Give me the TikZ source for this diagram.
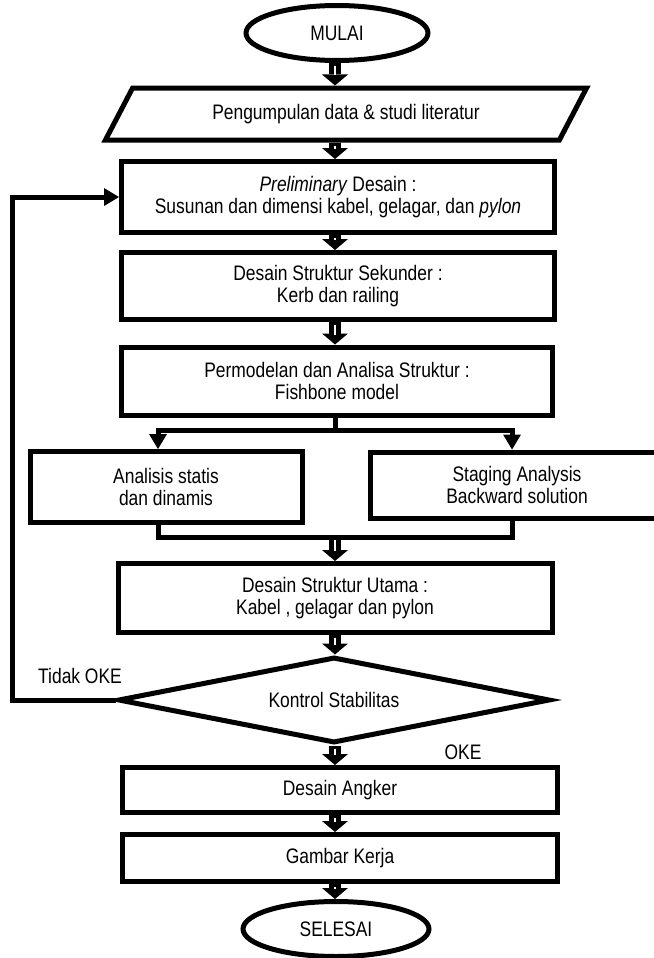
\documentclass[tikz,border=0pt]{standalone}
\usepackage{fontspec}
\setmainfont{Liberation Sans}[FakeStretch=0.83]
\usetikzlibrary{positioning,arrows.meta,calc,shapes.geometric}

\begin{document}
\begin{tikzpicture}[x=1pt, y=-1pt,
	font=\fontsize{21}{22}\selectfont,
	box/.style={draw, line width=5pt, rectangle, inner sep=0pt, align=center},
	term/.style={draw, line width=5pt, ellipse, inner sep=0pt,
		minimum width=182pt, minimum height=55pt},
	flow/.style={line width=12pt, -{Triangle[length=11pt,width=26pt,line width=0pt]}},
	flowgap/.style={white, line width=2.5pt, shorten >=10pt, shorten <=3pt},
	wire/.style={line width=5pt},
	arr/.style={line width=5pt, -{Triangle[length=15pt,width=18pt,line width=0pt]}}]

	\useasboundingbox (0,0) rectangle (653,958);

	\node[term] (mulai) at (337,33) {MULAI};
	\node[draw, line width=5pt, trapezium, trapezium left angle=49,
		  trapezium right angle=131, trapezium stretches=true,
		  minimum width=482pt, minimum height=52pt, inner sep=0pt]
		  (data) at (346,114) {Pengumpulan data \& studi literatur};
	\node[box, minimum width=433pt, minimum height=71pt]
		  (prelim) at (338,197) {\textit{Preliminary} Desain :\\
		  Susunan dan dimensi kabel, gelagar, dan \textit{pylon}};
	\node[box, minimum width=433pt, minimum height=67pt]
		  (sekunder) at (338,286) {Desain Struktur Sekunder :\\ Kerb dan railing};
	\node[box, minimum width=431pt, minimum height=68pt]
		  (model) at (337,381) {Permodelan dan Analisa Struktur :\\ Fishbone model};
	\node[box, minimum width=272pt, minimum height=71pt]
		  (statis) at (166,487) {Analisis statis\\ dan dinamis};
	\node[box, minimum width=294pt, minimum height=66pt]
		  (staging) at (517,485) {Staging Analysis\\ Backward solution};
	\node[box, minimum width=434pt, minimum height=69pt]
		  (utama) at (335,598) {Desain Struktur Utama :\\ Kabel , gelagar dan pylon};
	\node[draw, line width=5pt, diamond, aspect=5, inner sep=0pt,
		  minimum width=432pt, minimum height=86pt]
		  (kontrol) at (334,700) {Kontrol Stabilitas};
	\node[box, minimum width=435pt, minimum height=45pt]
		  (angker) at (340,790) {Desain Angker};
	\node[box, minimum width=435pt, minimum height=47pt]
		  (gambar) at (340,858) {Gambar Kerja};
	\node[term, minimum width=186pt] (selesai) at (336,929) {SELESAI};
	\node (tidak) at (80,676) {Tidak OKE};
	\node (oke) at (463,752) {OKE};

	\coordinate (axis) at (335,0);
	\coordinate (split) at (335,430);
	\coordinate (sl) at (158,430);
	\coordinate (sr) at (512,430);
	\coordinate (ml) at (158,537);
	\coordinate (mr) at (512,537);
	\coordinate (merge) at (335,537);
	\coordinate (back) at (12,700);

	\foreach \a/\b in {mulai/data, data/prelim, prelim/sekunder, sekunder/model,
		utama/kontrol, kontrol/angker, angker/gambar, gambar/selesai}{
		\draw[flow] (\a.south -| axis) -- (\b.north -| axis);
		\draw[flowgap] (\a.south -| axis) -- (\b.north -| axis);
	}

	\draw[wire] (model.south -| axis) -- (split);
	\draw[arr] (split) -| (statis.north -| sl);
	\draw[arr] (split) -| (staging.north -| sr);
	\draw[wire] (statis.south -| ml) |- (mr) -- (staging.south -| mr);
	\draw[flow] (merge) -- (utama.north -| axis);
	\draw[flowgap] (merge) -- (utama.north -| axis);

	\draw[arr] (kontrol.west) -- (back) |- (prelim.west);
\end{tikzpicture}
\end{document}
